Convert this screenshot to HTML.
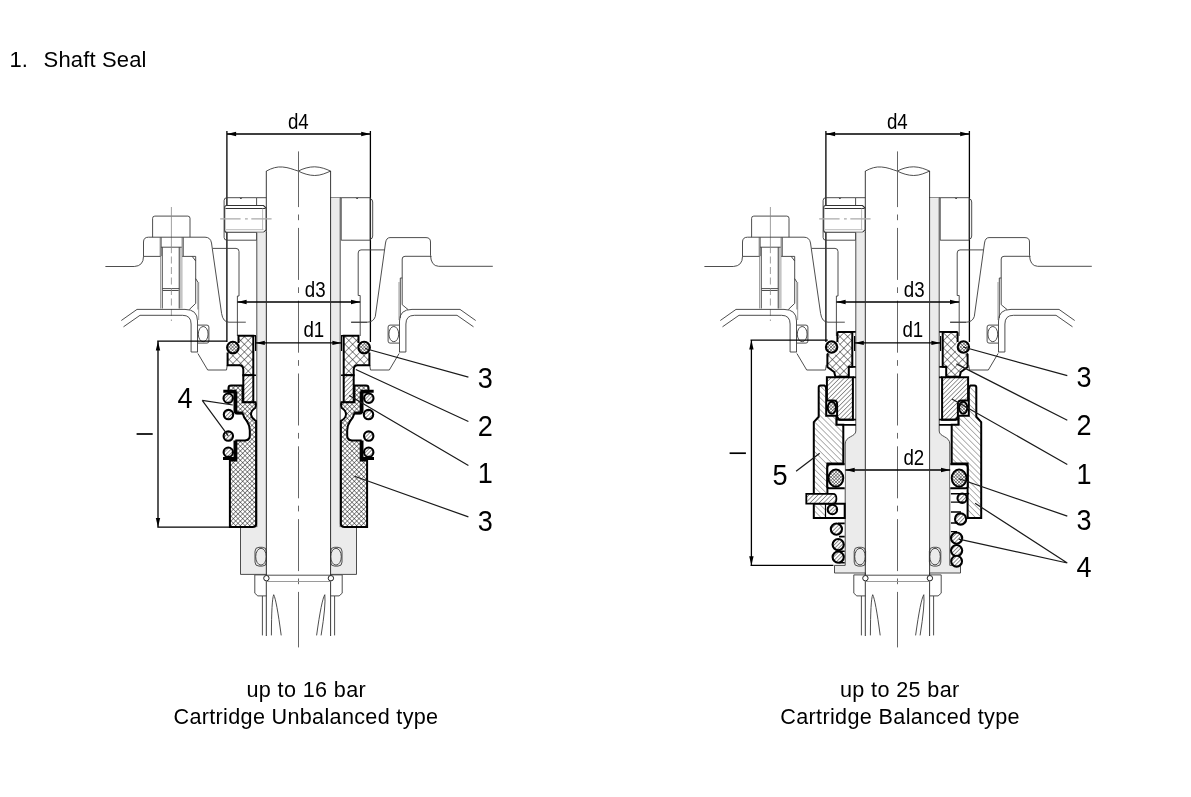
<!DOCTYPE html><html><head><meta charset="utf-8"><title>Shaft Seal</title>
<style>
html,body{margin:0;padding:0;background:#fff;overflow:hidden;}
svg{display:block;will-change:transform;}
.t{fill:none;stroke:#3a3a3a;stroke-width:0.9;}
.tg{fill:none;stroke:#9a9a9a;stroke-width:1;}
.k{stroke:#000;stroke-width:2;}
.dm{fill:none;stroke:#000;stroke-width:1.3;}
.ld{fill:none;stroke:#1a1a1a;stroke-width:1.2;}
.ah{fill:#000;stroke:none;}
.cl{fill:none;stroke:#666;stroke-width:1;stroke-dasharray:52 7.4 5.7 7.7;}
.sl{fill:#ebebeb;stroke:none;}
text{font-family:"Liberation Sans",sans-serif;fill:#000;}
</style>
</head><body><svg width="1191" height="797" viewBox="0 0 1191 797">
<defs>
 <pattern id="xc" patternUnits="userSpaceOnUse" width="5.4" height="5.4" patternTransform="rotate(45)">
  <rect width="5.4" height="5.4" fill="#fff"/>
  <path d="M0,0H5.4M0,0V5.4" stroke="#111" stroke-width="0.95"/>
 </pattern>
 <pattern id="xf" patternUnits="userSpaceOnUse" width="3.3" height="3.3" patternTransform="rotate(45)">
  <rect width="3.3" height="3.3" fill="#fff"/>
  <path d="M0,0H3.3M0,0V3.3" stroke="#000" stroke-width="0.85"/>
 </pattern>
 <pattern id="xo" patternUnits="userSpaceOnUse" width="2.3" height="2.3" patternTransform="rotate(45)">
  <rect width="2.3" height="2.3" fill="#fff"/>
  <path d="M0,0H2.3M0,0V2.3" stroke="#111" stroke-width="0.85"/>
 </pattern>
 <pattern id="h1" patternUnits="userSpaceOnUse" width="3.2" height="3.2" patternTransform="rotate(45)">
  <rect width="3.2" height="3.2" fill="#fff"/>
  <path d="M0,0V3.2" stroke="#111" stroke-width="0.85"/>
 </pattern>
 <pattern id="h1m" patternUnits="userSpaceOnUse" width="3.2" height="3.2" patternTransform="rotate(-45)">
  <rect width="3.2" height="3.2" fill="#fff"/>
  <path d="M0,0V3.2" stroke="#111" stroke-width="0.85"/>
 </pattern>
 <pattern id="hc" patternUnits="userSpaceOnUse" width="2.7" height="2.7" patternTransform="rotate(45)">
  <rect width="2.7" height="2.7" fill="#fff"/>
  <path d="M0,0V2.7" stroke="#111" stroke-width="0.95"/>
 </pattern>
 <pattern id="hcm" patternUnits="userSpaceOnUse" width="2.7" height="2.7" patternTransform="rotate(-45)">
  <rect width="2.7" height="2.7" fill="#fff"/>
  <path d="M0,0V2.7" stroke="#111" stroke-width="0.95"/>
 </pattern>
 <pattern id="h2" patternUnits="userSpaceOnUse" width="4.2" height="4.2" patternTransform="rotate(-45)">
  <rect width="4.2" height="4.2" fill="#fff"/>
  <path d="M0,0V4.2" stroke="#333" stroke-width="0.75"/>
 </pattern>
 <pattern id="h2m" patternUnits="userSpaceOnUse" width="4.2" height="4.2" patternTransform="rotate(45)">
  <rect width="4.2" height="4.2" fill="#fff"/>
  <path d="M0,0V4.2" stroke="#333" stroke-width="0.75"/>
 </pattern>
</defs>
<rect width="1191" height="797" fill="#fff"/><g id="topL"><path class="dm" d="M226.7,134H370.5M226.9,131V342M370.4,131V342"/><polygon class="ah" points="226.9,134.0 236.1,131.8 236.1,136.2"/><polygon class="ah" points="370.4,134.0 361.2,131.8 361.2,136.2"/><text x="298.3" y="129" font-size="21.5" text-anchor="middle" transform="translate(298.3,0) scale(0.87,1) translate(-298.3,0)">d4</text><path class="t" d="M266.3,171.1 C272,168 277,166.5 282.5,167 C289,167.5 293,169.5 298.3,171.1 C303,168.5 309,166.8 314.7,166.8 C321,167 326,169 330.6,171.1 M298.3,171.1 C303,173.5 309,175.5 314.7,175.5 C321,175.5 326,173 330.6,171.1"/><path class="t" d="M266.3,171V636M330.6,171V636" style="stroke:#222"/><path class="cl" d="M298.5,155.1V644.5"/><path class="cl" d="M298.5,151.4V157M298.5,640V647.4"/><path class="t" d="M256.6,197.7H227 Q224.1,197.7 224.1,200.5V237.5Q224.1,240.2 227,240.2H256.6 M256.6,197.7V205.7 M256.6,232.6V240.2 M256.6,197.7H266.3 M240,197.7 l0.9,1.3 l0.9,-1.3"/><path d="M226.7,205.5H263.5L266.1,208V229.8L263.5,232.3H226.7Q224.7,232.3 224.7,230.3V207.5Q224.7,205.5 226.7,205.5Z" fill="#fff" stroke="#333" stroke-width="1.1"/><path class="t" d="M225.5,208.5H265.5" style="stroke:#333;stroke-width:1"/><path class="t" d="M226,229.7H263.5M262.6,208.5V229.7" style="stroke:#aaa;stroke-width:0.8"/><path d="M220.2,218.9H240.6M245,218.9H247.8M251.3,218.9H271.6" fill="none" stroke="#aaa" stroke-width="1.2"/><path class="t" d="M330.6,197.7H341.2"/><path class="t" d="M341.2,197.7H370.3V240.2H341.2Z M370.3,199Q372.7,199 372.7,202V236Q372.7,239 370.3,239 M356.2,197.7 l0.9,1.3 l0.9,-1.3"/><path class="t" d="M152.6,237.2V218.3Q152.6,216.1 154.8,216.1H187.8Q190,216.1 190,218.3V237.2"/><rect x="159.4" y="237.3" width="1.7" height="18.8" fill="#bbb"/><rect x="181.3" y="237.3" width="1.9" height="18.8" fill="#bbb"/><rect x="179.2" y="247.2" width="3.4" height="61.3" fill="#c4c4c4"/><path class="t" d="M161.1,237.3V256.1M183.2,237.3V256.1M162.3,247.2V308.5M179.2,247.2V308.5M161.1,247.2H181.7M162.3,288.6H179.2M162.8,290.5H178.7"/><path class="tg" d="M160.6,256V308.5"/><path fill="none" stroke="#888" stroke-width="0.8" d="M171.4,207V253.2"/><path fill="none" stroke="#888" stroke-width="0.8" stroke-dasharray="7 3.5" d="M171.4,256.5V321"/><path class="t" d="M105.4,266.5H134.3Q143.5,266 143.5,256.4V242Q143.5,237.2 148.5,237.2H205Q210.5,237.2 211.5,243L221.6,313.5Q223,322.2 229,322.2H245.8"/><path class="t" d="M212.8,248.4H236Q239,248.4 239,251.5V296H237.4V336"/><path class="t" d="M143.5,256.4H160.5M182.2,256.4H195.7V303.4L189.3,309.5M192.2,256.4L195.7,261M195.7,278.6L198.1,282.6V309.5"/><path class="tg" d="M198.7,282V320"/><path class="t" d="M492.8,266.3H438.6Q431,266 430.5,255.3V242Q430.5,237.6 426,237.6H390Q386.3,237.6 385.5,243L375.3,316.5Q373.5,322.2 367,322.2H351.2"/><path class="t" d="M384.3,249.9H361Q358.2,249.9 358.2,253V295.5H360.2V336"/><path class="t" d="M431.5,256.3H405Q402.2,256.3 402.2,259V304.7L408.1,309.6M402.2,278H400.3V318"/><path class="tg" d="M399,282V320"/><g><path class="t" d="M121.3,320.5L137,309.4H185Q197.5,309.4 197.5,321V352"/><path class="t" d="M123.5,326.8L140,315.3H182.5Q191.1,315.3 191.1,324V352H197.9"/><path class="t" d="M198,325.1H206.9Q208.9,325.1 208.9,327.1V341.1Q208.9,343.1 206.9,343.1H198"/><ellipse class="t" cx="203.2" cy="334.1" rx="4.9" ry="7.6"/><path class="t" d="M197.9,353.5L207.7,370H226.5L227.3,364.8"/></g><g transform="matrix(-1,0,0,1,597,0)"><path class="t" d="M121.3,320.5L137,309.4H185Q197.5,309.4 197.5,321V352"/><path class="t" d="M123.5,326.8L140,315.3H182.5Q191.1,315.3 191.1,324V352H197.9"/><path class="t" d="M198,325.1H206.9Q208.9,325.1 208.9,327.1V341.1Q208.9,343.1 206.9,343.1H198"/><ellipse class="t" cx="203.2" cy="334.1" rx="4.9" ry="7.6"/><path class="t" d="M197.9,353.5L207.7,370H226.5L227.3,364.8"/></g><text x="315.2" y="297" font-size="21.5" text-anchor="middle" transform="translate(315.2,0) scale(0.87,1) translate(-315.2,0)">d3</text><text x="313.8" y="337" font-size="21.5" text-anchor="middle" transform="translate(313.8,0) scale(0.87,1) translate(-313.8,0)">d1</text><path class="t" d="M351.1,322.3H367"/></g><g transform="translate(599,0)"><path class="dm" d="M226.7,134H370.5M226.9,131V342M370.4,131V342"/><polygon class="ah" points="226.9,134.0 236.1,131.8 236.1,136.2"/><polygon class="ah" points="370.4,134.0 361.2,131.8 361.2,136.2"/><text x="298.3" y="129" font-size="21.5" text-anchor="middle" transform="translate(298.3,0) scale(0.87,1) translate(-298.3,0)">d4</text><path class="t" d="M266.3,171.1 C272,168 277,166.5 282.5,167 C289,167.5 293,169.5 298.3,171.1 C303,168.5 309,166.8 314.7,166.8 C321,167 326,169 330.6,171.1 M298.3,171.1 C303,173.5 309,175.5 314.7,175.5 C321,175.5 326,173 330.6,171.1"/><path class="t" d="M266.3,171V636M330.6,171V636" style="stroke:#222"/><path class="cl" d="M298.5,155.1V644.5"/><path class="cl" d="M298.5,151.4V157M298.5,640V647.4"/><path class="t" d="M256.6,197.7H227 Q224.1,197.7 224.1,200.5V237.5Q224.1,240.2 227,240.2H256.6 M256.6,197.7V205.7 M256.6,232.6V240.2 M256.6,197.7H266.3 M240,197.7 l0.9,1.3 l0.9,-1.3"/><path d="M226.7,205.5H263.5L266.1,208V229.8L263.5,232.3H226.7Q224.7,232.3 224.7,230.3V207.5Q224.7,205.5 226.7,205.5Z" fill="#fff" stroke="#333" stroke-width="1.1"/><path class="t" d="M225.5,208.5H265.5" style="stroke:#333;stroke-width:1"/><path class="t" d="M226,229.7H263.5M262.6,208.5V229.7" style="stroke:#aaa;stroke-width:0.8"/><path d="M220.2,218.9H240.6M245,218.9H247.8M251.3,218.9H271.6" fill="none" stroke="#aaa" stroke-width="1.2"/><path class="t" d="M330.6,197.7H341.2"/><path class="t" d="M341.2,197.7H370.3V240.2H341.2Z M370.3,199Q372.7,199 372.7,202V236Q372.7,239 370.3,239 M356.2,197.7 l0.9,1.3 l0.9,-1.3"/><path class="t" d="M152.6,237.2V218.3Q152.6,216.1 154.8,216.1H187.8Q190,216.1 190,218.3V237.2"/><rect x="159.4" y="237.3" width="1.7" height="18.8" fill="#bbb"/><rect x="181.3" y="237.3" width="1.9" height="18.8" fill="#bbb"/><rect x="179.2" y="247.2" width="3.4" height="61.3" fill="#c4c4c4"/><path class="t" d="M161.1,237.3V256.1M183.2,237.3V256.1M162.3,247.2V308.5M179.2,247.2V308.5M161.1,247.2H181.7M162.3,288.6H179.2M162.8,290.5H178.7"/><path class="tg" d="M160.6,256V308.5"/><path fill="none" stroke="#888" stroke-width="0.8" d="M171.4,207V253.2"/><path fill="none" stroke="#888" stroke-width="0.8" stroke-dasharray="7 3.5" d="M171.4,256.5V321"/><path class="t" d="M105.4,266.5H134.3Q143.5,266 143.5,256.4V242Q143.5,237.2 148.5,237.2H205Q210.5,237.2 211.5,243L221.6,313.5Q223,322.2 229,322.2H245.8"/><path class="t" d="M212.8,248.4H236Q239,248.4 239,251.5V296H237.4V336"/><path class="t" d="M143.5,256.4H160.5M182.2,256.4H195.7V303.4L189.3,309.5M192.2,256.4L195.7,261M195.7,278.6L198.1,282.6V309.5"/><path class="tg" d="M198.7,282V320"/><path class="t" d="M492.8,266.3H438.6Q431,266 430.5,255.3V242Q430.5,237.6 426,237.6H390Q386.3,237.6 385.5,243L375.3,316.5Q373.5,322.2 367,322.2H351.2"/><path class="t" d="M384.3,249.9H361Q358.2,249.9 358.2,253V295.5H360.2V336"/><path class="t" d="M431.5,256.3H405Q402.2,256.3 402.2,259V304.7L408.1,309.6M402.2,278H400.3V318"/><path class="tg" d="M399,282V320"/><g><path class="t" d="M121.3,320.5L137,309.4H185Q197.5,309.4 197.5,321V352"/><path class="t" d="M123.5,326.8L140,315.3H182.5Q191.1,315.3 191.1,324V352H197.9"/><path class="t" d="M198,325.1H206.9Q208.9,325.1 208.9,327.1V341.1Q208.9,343.1 206.9,343.1H198"/><ellipse class="t" cx="203.2" cy="334.1" rx="4.9" ry="7.6"/><path class="t" d="M197.9,353.5L207.7,370H226.5L227.3,364.8"/></g><g transform="matrix(-1,0,0,1,597,0)"><path class="t" d="M121.3,320.5L137,309.4H185Q197.5,309.4 197.5,321V352"/><path class="t" d="M123.5,326.8L140,315.3H182.5Q191.1,315.3 191.1,324V352H197.9"/><path class="t" d="M198,325.1H206.9Q208.9,325.1 208.9,327.1V341.1Q208.9,343.1 206.9,343.1H198"/><ellipse class="t" cx="203.2" cy="334.1" rx="4.9" ry="7.6"/><path class="t" d="M197.9,353.5L207.7,370H226.5L227.3,364.8"/></g><text x="315.2" y="297" font-size="21.5" text-anchor="middle" transform="translate(315.2,0) scale(0.87,1) translate(-315.2,0)">d3</text><text x="313.8" y="337" font-size="21.5" text-anchor="middle" transform="translate(313.8,0) scale(0.87,1) translate(-313.8,0)">d1</text><path class="t" d="M351.1,322.3H367"/></g><g><path class="t" d="M266.4,575.2H330.6"/><path class="tg" d="M266.4,581.5H330.6"/><path class="t" d="M266.4,574.9H254.8V593.2L257.8,595.9H266.4M330.6,574.9H342.2V593.2L339.1,595.9H330.6"/><path class="t" d="M262.4,596V635.4M334.6,596V635.4"/><path class="t" d="M271.4,635.4Q271.5,600 273.7,594.7Q276.5,600 281.2,635.4M316.6,635.4Q321.5,600 324.8,594.7Q326,605 321.1,635.4"/><circle cx="266.4" cy="578.2" r="2.7" fill="#fff" stroke="#222" stroke-width="1"/><circle cx="330.9" cy="578.2" r="2.7" fill="#fff" stroke="#222" stroke-width="1"/></g><g transform="translate(599,0)"><path class="t" d="M266.4,575.2H330.6"/><path class="tg" d="M266.4,581.5H330.6"/><path class="t" d="M266.4,574.9H254.8V593.2L257.8,595.9H266.4M330.6,574.9H342.2V593.2L339.1,595.9H330.6"/><path class="t" d="M262.4,596V635.4M334.6,596V635.4"/><path class="t" d="M271.4,635.4Q271.5,600 273.7,594.7Q276.5,600 281.2,635.4M316.6,635.4Q321.5,600 324.8,594.7Q326,605 321.1,635.4"/><circle cx="266.4" cy="578.2" r="2.7" fill="#fff" stroke="#222" stroke-width="1"/><circle cx="330.9" cy="578.2" r="2.7" fill="#fff" stroke="#222" stroke-width="1"/></g><g><path class="sl" d="M256.8,232.6 H266.3V574.4H240.5V527.1H256.8Z"/><path class="t" d="M256.8,232.6V527.1M240.5,527.1V574.4H266.3"/><rect x="255" y="547.3" width="11.4" height="18.8" rx="4" fill="#fff" class="t"/><ellipse cx="261" cy="556.7" rx="5.3" ry="8.4" class="t" fill="#fff"/><path fill="url(#xc)" d="M238.5,335.7H253.3V375.2H243.3V369.5Q243,365.2 239.5,365.2H227.6V352.5A6.1,6.1 0 0 0 238.5,343Z"/><path class="k" fill="none" d="M227.6,352.5V365.2H239.5Q243,365.2 243.3,369.5V375.2H253.3V335.7H238.5V343"/><path class="t" d="M253.3,335.7H256M253.3,375.2H256M253.3,402.5H256" style="stroke:#000;stroke-width:1.6"/><circle cx="232.9" cy="347.6" r="5.8" fill="url(#xo)" stroke="#000" stroke-width="2.1"/><rect x="243.3" y="375.2" width="10" height="27.3" fill="url(#h1)" class="k"/><path class="k" fill="url(#xf)" d="M228.5,388Q228.5,385.6 231,385.6H242.6V402.3H255.5Q256.4,405 255.2,408Q251,410.5 251,414.5Q251.5,418.5 256.1,421V524Q256,527.1 252.5,527.1H229.9V460.4H236.3V440.4H245.1Q249.8,440 249.8,435.7V430.5Q249.6,425 247,421.4Q243.5,417 242.6,413.2H236.3V392.5H228.5Z"/><path fill="none" stroke="#000" stroke-width="3" d="M223.3,391.3H235V410.5Q235,413 237.5,413H242.6"/><path fill="none" stroke="#000" stroke-width="3" d="M235,440.4V458.6H223"/><circle cx="228.2" cy="398.2" r="4.7" fill="url(#hc)" stroke="#000" stroke-width="2.1"/><circle cx="228.5" cy="414.6" r="4.7" fill="url(#hc)" stroke="#000" stroke-width="2.1"/><circle cx="228.3" cy="436.1" r="4.7" fill="url(#hc)" stroke="#000" stroke-width="2.1"/><circle cx="228.3" cy="452.2" r="4.7" fill="url(#hc)" stroke="#000" stroke-width="2.1"/></g><g transform="matrix(-1,0,0,1,597,0)"><path class="sl" d="M256.8,197.7 H266.3V574.4H240.5V527.1H256.8Z"/><path class="t" d="M256.8,197.7V527.1M240.5,527.1V574.4H266.3"/><rect x="255" y="547.3" width="11.4" height="18.8" rx="4" fill="#fff" class="t"/><ellipse cx="261" cy="556.7" rx="5.3" ry="8.4" class="t" fill="#fff"/><path fill="url(#xc)" d="M238.5,335.7H253.3V375.2H243.3V369.5Q243,365.2 239.5,365.2H227.6V352.5A6.1,6.1 0 0 0 238.5,343Z"/><path class="k" fill="none" d="M227.6,352.5V365.2H239.5Q243,365.2 243.3,369.5V375.2H253.3V335.7H238.5V343"/><path class="t" d="M253.3,335.7H256M253.3,375.2H256M253.3,402.5H256" style="stroke:#000;stroke-width:1.6"/><circle cx="232.9" cy="347.6" r="5.8" fill="url(#xo)" stroke="#000" stroke-width="2.1"/><rect x="243.3" y="375.2" width="10" height="27.3" fill="url(#h1m)" class="k"/><path class="k" fill="url(#xf)" d="M228.5,388Q228.5,385.6 231,385.6H242.6V402.3H255.5Q256.4,405 255.2,408Q251,410.5 251,414.5Q251.5,418.5 256.1,421V524Q256,527.1 252.5,527.1H229.9V460.4H236.3V440.4H245.1Q249.8,440 249.8,435.7V430.5Q249.6,425 247,421.4Q243.5,417 242.6,413.2H236.3V392.5H228.5Z"/><path fill="none" stroke="#000" stroke-width="3" d="M223.3,391.3H235V410.5Q235,413 237.5,413H242.6"/><path fill="none" stroke="#000" stroke-width="3" d="M235,440.4V458.6H223"/><circle cx="228.2" cy="398.2" r="4.7" fill="url(#hcm)" stroke="#000" stroke-width="2.1"/><circle cx="228.5" cy="414.6" r="4.7" fill="url(#hcm)" stroke="#000" stroke-width="2.1"/><circle cx="228.3" cy="436.1" r="4.7" fill="url(#hcm)" stroke="#000" stroke-width="2.1"/><circle cx="228.3" cy="452.2" r="4.7" fill="url(#hcm)" stroke="#000" stroke-width="2.1"/></g><path class="dm" d="M158,341.2V527.1M157.2,341.2H227M157.3,527.1H230"/><polygon class="ah" points="158.0,341.2 155.8,350.4 160.2,350.4"/><polygon class="ah" points="158.0,527.1 155.8,517.9 160.2,517.9"/><path d="M136.6,434H152.7" stroke="#000" stroke-width="1.7"/><path class="ld" d="M202.2,400.4L232.8,405M202.2,400.4L228.3,435.8"/><path class="ld" d="M365,348.5L468.4,377.1M355.8,369.5L468.4,421.5M349.2,395.5L468.4,465.4M354.5,476.3L468.4,516.9"/><g><path class="sl" d="M855.8,232.6H865.6V573H834.5V565.4H845.2V444C845.2,436 855.8,437 855.8,431Z"/><path class="t" d="M855.8,232.6V431C855.8,437 845.2,436 845.2,444V565.4H834.5V573H865.6"/><rect x="854.2" y="547.3" width="11.4" height="18.8" rx="4" fill="#fff" class="t"/><ellipse cx="860" cy="556.6" rx="5.3" ry="8.3" class="t" fill="#fff"/><path fill="url(#xc)" d="M838.1,331.9H852.3V366.8H848.8V376.8H835.4L834.2,372L827.4,367.1V354.5L828.5,353.5A6.2,6.2 0 0 0 837.4,342V333Z"/><path class="k" fill="none" d="M828.5,353.5L827.4,354.5V367.1L834.2,372L835.4,376.8H848.8V366.8H852.3V331.9H838.1Q837.4,332 837.4,333V342"/><path d="M852.3,331.9H855.7M848.8,366.8H855.7" stroke="#000" stroke-width="1.8"/><circle cx="831.6" cy="347" r="5.7" fill="url(#xo)" stroke="#000" stroke-width="2.1"/><path class="k" fill="url(#h1)" d="M826.9,377.3H852.9V419.8H839.5L837.1,417V404Q837.1,400.6 833.5,400.6H826.9Z"/><path d="M852.9,377.3H855.9" stroke="#000" stroke-width="1.8"/><ellipse cx="831.8" cy="407.7" rx="4.1" ry="6" fill="url(#xo)" stroke="#000" stroke-width="2"/><path d="M837,419.6H855.9M836.4,424.8H855.9M836.4,415.7V424.8" stroke="#000" stroke-width="1.8" fill="none"/><path class="k" fill="url(#h2)" d="M820.5,385.5H824.5Q826.2,386.5 826.2,390V415.7H836.4V424.7H843.3V463.5H827.4V493.9 H813.8V422.1L818.7,416.8V387.5Q818.7,385.5 820.5,385.5Z"/><path class="k" fill="#fff" d="M844.7,464.3H830.5Q827.3,464.3 827.3,467.5V486.5Q827.3,488.3 829.5,488.3H844.7"/><ellipse cx="835.9" cy="478.1" rx="7.4" ry="8.6" fill="url(#xo)" stroke="#000" stroke-width="1.9"/><path class="k" fill="#fff" d="M813.8,503.7H844.7V518H813.8Z"/><rect x="815" y="504.8" width="10" height="12.2" fill="url(#h2)"/><path d="M825.5,503.7V518" stroke="#000" stroke-width="1.2"/></g><g transform="matrix(-1,0,0,1,1795,0)"><path class="sl" d="M855.8,197.7H865.6V573H834.5V565.4H845.2V444C845.2,436 855.8,437 855.8,431Z"/><path class="t" d="M855.8,197.7V431C855.8,437 845.2,436 845.2,444V565.4H834.5V573H865.6"/><rect x="854.2" y="547.3" width="11.4" height="18.8" rx="4" fill="#fff" class="t"/><ellipse cx="860" cy="556.6" rx="5.3" ry="8.3" class="t" fill="#fff"/><path fill="url(#xc)" d="M838.1,331.9H852.3V366.8H848.8V376.8H835.4L834.2,372L827.4,367.1V354.5L828.5,353.5A6.2,6.2 0 0 0 837.4,342V333Z"/><path class="k" fill="none" d="M828.5,353.5L827.4,354.5V367.1L834.2,372L835.4,376.8H848.8V366.8H852.3V331.9H838.1Q837.4,332 837.4,333V342"/><path d="M852.3,331.9H855.7M848.8,366.8H855.7" stroke="#000" stroke-width="1.8"/><circle cx="831.6" cy="347" r="5.7" fill="url(#xo)" stroke="#000" stroke-width="2.1"/><path class="k" fill="url(#h1m)" d="M826.9,377.3H852.9V419.8H839.5L837.1,417V404Q837.1,400.6 833.5,400.6H826.9Z"/><path d="M852.9,377.3H855.9" stroke="#000" stroke-width="1.8"/><ellipse cx="831.8" cy="407.7" rx="4.1" ry="6" fill="url(#xo)" stroke="#000" stroke-width="2"/><path d="M837,419.6H855.9M836.4,424.8H855.9M836.4,415.7V424.8" stroke="#000" stroke-width="1.8" fill="none"/><path class="k" fill="url(#h2m)" d="M820.5,385.5H824.5Q826.2,386.5 826.2,390V415.7H836.4V424.7H843.3V463.5H827.4V518 H813.8V422.1L818.7,416.8V387.5Q818.7,385.5 820.5,385.5Z"/><path class="k" fill="#fff" d="M844.7,464.3H830.5Q827.3,464.3 827.3,467.5V486.5Q827.3,488.3 829.5,488.3H844.7"/><ellipse cx="835.9" cy="478.1" rx="7.4" ry="8.6" fill="url(#xo)" stroke="#000" stroke-width="1.9"/></g><path class="k" fill="url(#h1)" d="M806.3,493.9H833Q836.4,493.9 836.4,498.8Q836.4,503.7 833,503.7H806.3Z" style="stroke-width:1.8"/><circle cx="832.4" cy="509.5" r="4.7" fill="url(#hc)" stroke="#000" stroke-width="2.1"/><circle cx="836.4" cy="529.1" r="5.6" fill="url(#hc)" stroke="#000" stroke-width="2.1"/><circle cx="838.2" cy="544.6" r="5.6" fill="url(#hc)" stroke="#000" stroke-width="2.1"/><circle cx="838.2" cy="557.1" r="5.6" fill="url(#hc)" stroke="#000" stroke-width="2.1"/><circle cx="962.2" cy="498.2" r="4.7" fill="url(#hc)" stroke="#000" stroke-width="2.1"/><circle cx="960.6" cy="519.0" r="5.6" fill="url(#hc)" stroke="#000" stroke-width="2.1"/><circle cx="956.6" cy="538.1" r="5.6" fill="url(#hc)" stroke="#000" stroke-width="2.1"/><circle cx="956.6" cy="550.6" r="5.6" fill="url(#hc)" stroke="#000" stroke-width="2.1"/><circle cx="956.6" cy="561.2" r="5.4" fill="url(#hc)" stroke="#000" stroke-width="2.1"/><path d="M838,523.4H844.7M839,536.6H844.7M839,551.2H844.7M839,562.8H844.7" stroke="#000" stroke-width="1.6"/><path d="M950.9,493.7H969M950.9,502.1H964M950.9,512H961M950.9,523H958M950.9,531.6H957" stroke="#000" stroke-width="1.4"/><path class="dm" d="M751.4,340.2V565.4M750.5,340.2H827.8M750.5,565.4H833.4"/><polygon class="ah" points="751.4,340.2 749.2,349.4 753.6,349.4"/><polygon class="ah" points="751.4,565.4 749.2,556.2 753.6,556.2"/><path d="M729.6,453.2H745.9" stroke="#000" stroke-width="1.7"/><path class="dm" d="M845.5,470H950.2"/><polygon class="ah" points="845.5,470.0 854.7,467.8 854.7,472.2"/><polygon class="ah" points="950.2,470.0 941.0,467.8 941.0,472.2"/><text x="913.8" y="465" font-size="21.5" text-anchor="middle" transform="translate(913.8,0) scale(0.87,1) translate(-913.8,0)">d2</text><path class="ld" d="M796.1,471.3L819.7,453.2"/><path class="ld" d="M963.2,347L1067.3,375.7M956.4,363.9L1067.3,420.3M951.9,398.9L1067.3,464.4M959,478.8L1067.3,516.1M975.1,503.3L1067.3,563M958.8,539.1L1067.3,563"/><path class="dm" d="M237.4,302H360.2"/><polygon class="ah" points="237.4,302.0 246.6,299.8 246.6,304.2"/><polygon class="ah" points="360.2,302.0 351.0,299.8 351.0,304.2"/><path class="t" d="M266.3,232V575M330.6,197V575" style="stroke:#333"/><path class="dm" d="M255.6,342.9H341.6M255.6,336V351M341.6,336V351" style="stroke:#000;stroke-width:1.2"/><polygon class="ah" points="255.6,342.9 264.8,340.7 264.8,345.1"/><polygon class="ah" points="341.6,342.9 332.4,340.7 332.4,345.1"/><g transform="translate(599,0)"><path class="dm" d="M237.4,302H360.2"/><polygon class="ah" points="237.4,302.0 246.6,299.8 246.6,304.2"/><polygon class="ah" points="360.2,302.0 351.0,299.8 351.0,304.2"/><path class="t" d="M266.3,232V575M330.6,197V575" style="stroke:#333"/><path class="dm" d="M255.6,342.9H341.6M255.6,336V351M341.6,336V351" style="stroke:#000;stroke-width:1.2"/><polygon class="ah" points="255.6,342.9 264.8,340.7 264.8,345.1"/><polygon class="ah" points="341.6,342.9 332.4,340.7 332.4,345.1"/></g><text transform="translate(477.7,387.9) scale(0.905,1)" font-size="29.9">3</text><text transform="translate(477.7,435.6) scale(0.905,1)" font-size="29.9">2</text><text transform="translate(477.7,483.2) scale(0.905,1)" font-size="29.9">1</text><text transform="translate(477.7,530.6) scale(0.905,1)" font-size="29.9">3</text><text transform="translate(177.5,407.9) scale(0.905,1)" font-size="29.9">4</text><text transform="translate(1076.4,386.7) scale(0.905,1)" font-size="29.9">3</text><text transform="translate(1076.4,435.4) scale(0.905,1)" font-size="29.9">2</text><text transform="translate(1076.4,483.7) scale(0.905,1)" font-size="29.9">1</text><text transform="translate(1076.4,530.1) scale(0.905,1)" font-size="29.9">3</text><text transform="translate(1076.4,576.7) scale(0.905,1)" font-size="29.9">4</text><text transform="translate(772.6,485.4) scale(0.905,1)" font-size="29.9">5</text><text x="9.6" y="67" font-size="22">1.</text><text x="43.6" y="67" font-size="22" textLength="102.8" lengthAdjust="spacing">Shaft Seal</text><text x="306.1" y="697" font-size="21.6" text-anchor="middle" textLength="119.3" lengthAdjust="spacing">up to 16 bar</text><text x="305.8" y="723.8" font-size="21.6" text-anchor="middle" textLength="264.6" lengthAdjust="spacing">Cartridge Unbalanced type</text><text x="899.6" y="697" font-size="21.6" text-anchor="middle" textLength="119.3" lengthAdjust="spacing">up to 25 bar</text><text x="899.9" y="723.8" font-size="21.6" text-anchor="middle" textLength="239.4" lengthAdjust="spacing">Cartridge Balanced type</text></svg></body></html>
